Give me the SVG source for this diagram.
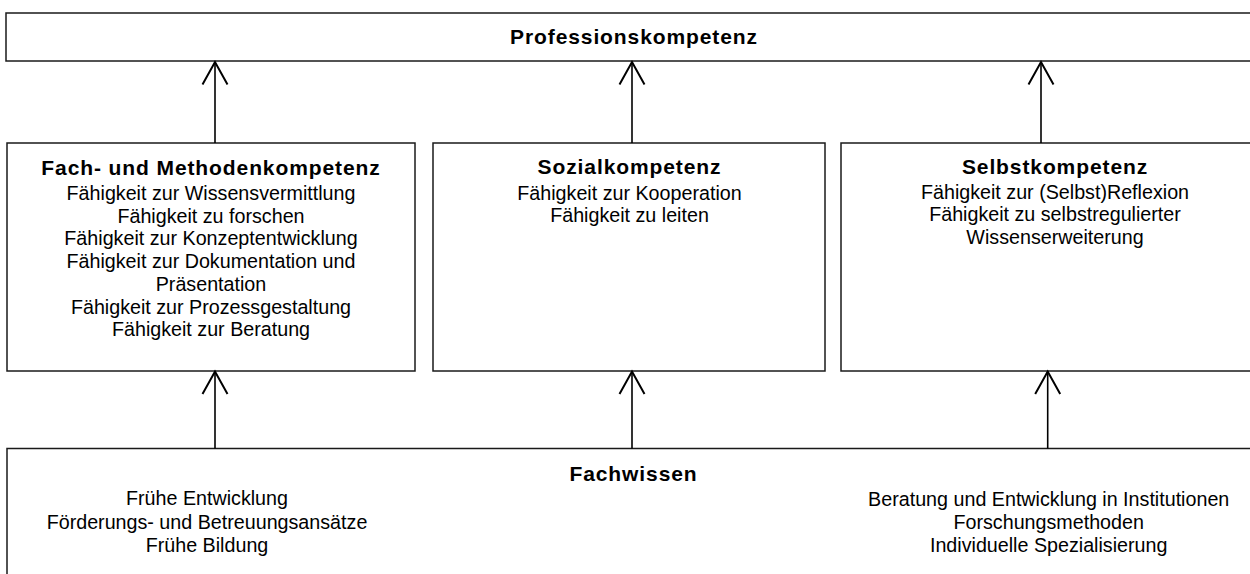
<svg xmlns="http://www.w3.org/2000/svg" width="1250" height="574" viewBox="0 0 1250 574">
<defs>
<style>
.box{fill:#fff;stroke:#1a1a1a;stroke-width:1.5}
.t{font-family:"Liberation Sans",Arial,sans-serif;font-size:19.7px;fill:#000;text-anchor:middle}
.b{font-family:"Liberation Sans",Arial,sans-serif;font-size:21px;font-weight:bold;letter-spacing:0.9px;fill:#000;text-anchor:middle}
.c{fill:none;stroke:#000;stroke-width:1.6}
</style>
<marker id="arr" markerUnits="userSpaceOnUse" markerWidth="30" markerHeight="30" viewBox="-20 -12 22 24" refX="0" refY="0" orient="auto" overflow="visible">
<path d="M-18,-10 L0,0 L-18,10" fill="none" stroke="#000" stroke-width="1.6"/>
</marker>
</defs>
<rect width="1250" height="574" fill="#fff"/>
<g id="professionskompetenz">
<rect class="box" x="6" y="13" width="1256" height="48"/>
<text class="b" x="634" y="43.5">Professionskompetenz</text>
</g>
<g id="fach-methodenkompetenz">
<rect class="box" x="7" y="143" width="408" height="228"/>
<text class="b" x="211" y="175">Fach- und Methodenkompetenz</text>
<text class="t" x="211" y="200">Fähigkeit zur Wissensvermittlung</text>
<text class="t" x="211" y="222.7">Fähigkeit zu forschen</text>
<text class="t" x="211" y="245.4">Fähigkeit zur Konzeptentwicklung</text>
<text class="t" x="211" y="268.1">Fähigkeit zur Dokumentation und</text>
<text class="t" x="211" y="290.8">Präsentation</text>
<text class="t" x="211" y="313.5">Fähigkeit zur Prozessgestaltung</text>
<text class="t" x="211" y="336.2">Fähigkeit zur Beratung</text>
</g>
<g id="sozialkompetenz">
<rect class="box" x="433" y="143" width="392" height="228"/>
<text class="b" x="629.5" y="174">Sozialkompetenz</text>
<text class="t" x="629.5" y="199.5">Fähigkeit zur Kooperation</text>
<text class="t" x="629.5" y="222">Fähigkeit zu leiten</text>
</g>
<g id="selbstkompetenz">
<rect class="box" x="841" y="143" width="429" height="228"/>
<text class="b" x="1055" y="173.5">Selbstkompetenz</text>
<text class="t" x="1055" y="198.5">Fähigkeit zur (Selbst)Reflexion</text>
<text class="t" x="1055" y="221">Fähigkeit zu selbstregulierter</text>
<text class="t" x="1055" y="243.5">Wissenserweiterung</text>
</g>
<g id="fachwissen">
<rect class="box" x="7" y="448.5" width="1263" height="150"/>
<text class="b" x="633.5" y="480.7">Fachwissen</text>
<text class="t" x="207" y="505">Frühe Entwicklung</text>
<text class="t" x="207" y="528.5">Förderungs- und Betreuungsansätze</text>
<text class="t" x="207" y="551.7">Frühe Bildung</text>
<text class="t" x="1048.7" y="505.5">Beratung und Entwicklung in Institutionen</text>
<text class="t" x="1048.7" y="528.5">Forschungsmethoden</text>
<text class="t" x="1048.7" y="551.7">Individuelle Spezialisierung</text>
</g>
<g id="connectors">
<line class="c" x1="215" y1="143" x2="215" y2="62" marker-end="url(#arr)"/>
<line class="c" x1="632" y1="143" x2="632" y2="62" marker-end="url(#arr)"/>
<line class="c" x1="1041" y1="143" x2="1041" y2="62" marker-end="url(#arr)"/>
<line class="c" x1="215" y1="448.5" x2="215" y2="371.5" marker-end="url(#arr)"/>
<line class="c" x1="632" y1="448.5" x2="632" y2="371.5" marker-end="url(#arr)"/>
<line class="c" x1="1047.7" y1="448.5" x2="1047.7" y2="371.5" marker-end="url(#arr)"/>
</g>
</svg>
